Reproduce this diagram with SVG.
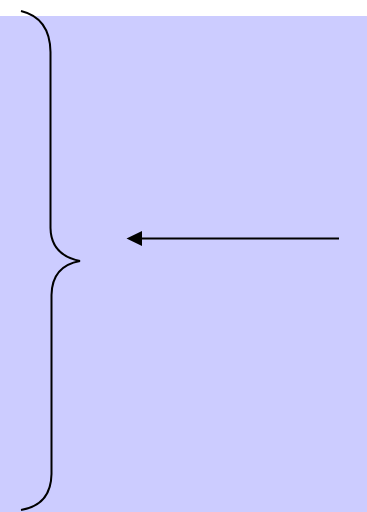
<svg xmlns="http://www.w3.org/2000/svg" width="367" height="512" viewBox="0 0 367 512">
<defs>
<style>
.ln{fill:none;stroke:#000;stroke-width:2}
</style>
<marker id="ah" markerWidth="8" markerHeight="8" refX="0" refY="4" orient="auto" markerUnits="userSpaceOnUse" viewBox="0 0 8 8">
<path d="M8,0 L0,4 L8,8 Z" fill="#000"/>
</marker>
</defs>
<rect width="367" height="512" fill="#fff"/>
<rect id="bg" x="0" y="16" width="367" height="496" fill="#CCCCFF"/>
<g id="brace">
<path class="ln" d="M21,11 Q50,18 50.5,52 L50.5,228 Q51,255 80,261 Q52,266 51.5,295 L51.5,474 Q51,505 21,510"/>
</g>
<g id="connectors">
<line class="ln" x1="339" y1="238.5" x2="142" y2="238.5"/>
<path d="M142,231 L126.5,238.5 L142,246 Z" fill="#000"/>
</g>
</svg>
